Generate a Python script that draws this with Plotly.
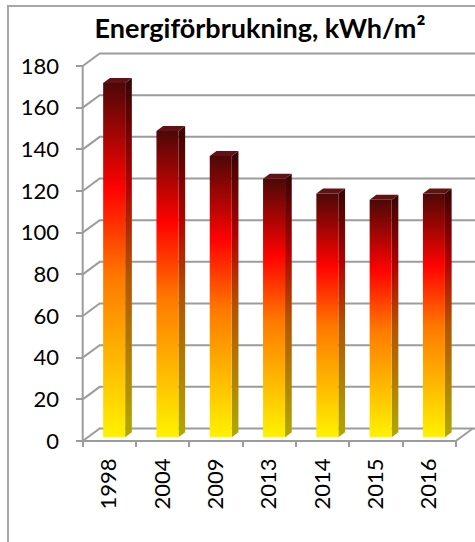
import plotly.graph_objects as go

# Energy use per year (kWh/m²)
years = ["1998", "2004", "2009", "2013", "2014", "2015", "2016"]
energy = [170, 147, 135, 124, 117, 114, 117]
y_ticks = list(range(0, 181, 20))
chart_title = "Energiförbrukning, kWh/m²"

# "Fire" gradient used on the column faces (bottom -> top)
fire_stops = [0.0, 0.45, 0.70, 1.0]
fire_rgb = [(255, 242, 0), (255, 122, 0), (255, 3, 0), (77, 8, 8)]

W, H = 475, 542
PX_X = 53.3      # pixels per category slot
PX_Y = 2.0833    # pixels per kWh/m²
ML, MT, MB = 76, 45, 95
ORIGIN_PX = (82.7, 441.0)   # front-left floor corner in page pixels

# pseudo-3D geometry (data units)
DX, DY = 17 / PX_X, 12.5 / PX_Y       # back wall offset
FX, FY = 4.8 / PX_X, 3.8 / PX_Y       # column front plane offset
HW = 11 / PX_X                        # half column width
SX, SY = 6.7 / PX_X, 5.0 / PX_Y       # column depth

n = len(years)
x0 = -0.5 - (ORIGIN_PX[0] - ML) / PX_X
x1 = -0.5 + (W - ORIGIN_PX[0]) / PX_X
y0 = -((H - MB) - ORIGIN_PX[1]) / PX_Y
y1 = (ORIGIN_PX[1] - MT) / PX_Y

grid_col = "#9c9c9c"
font_fam = "Lato, 'Open Sans', sans-serif"


def scale(rgbs, k=1.0):
    return [[s, "rgb(%d,%d,%d)" % tuple(int(c * k) for c in rgb)]
            for s, rgb in zip(fire_stops, rgbs)]


front_cs = scale(fire_rgb)
side_cs = scale(fire_rgb, 0.70)

fig = go.Figure()

# back wall gridlines and side wall diagonals
gx, gy = [], []
for v in y_ticks:
    gx += [-0.5, -0.5 + DX, x1 + 1, None]
    gy += [v, v + DY, v + DY, None]
fig.add_trace(go.Scatter(x=gx, y=gy, mode="lines",
                         line=dict(color=grid_col, width=2),
                         hoverinfo="skip", showlegend=False))

# front vertical axis and floor edges
fx_, fy_ = [], []
fx_ += [-0.5, -0.5, None]
fy_ += [y_ticks[-1], 0, None]
fx_ += [-0.5, n - 0.5, n - 0.5 + DX, None]
fy_ += [0, 0, DY, None]
fig.add_trace(go.Scatter(x=fx_, y=fy_, mode="lines",
                         line=dict(color=grid_col, width=2),
                         hoverinfo="skip", showlegend=False))

# columns
for i, v in enumerate(energy):
    xl, xr = i + FX - HW, i + FX + HW
    yb, yt = FY, v + FY
    # side face
    fig.add_trace(go.Scatter(
        x=[xr, xr + SX, xr + SX, xr, xr],
        y=[yb, yb + SY, yt + SY, yt, yb],
        mode="lines", line=dict(width=0), fill="toself",
        fillgradient=dict(type="vertical", colorscale=side_cs,
                          start=yb, stop=yt + SY),
        hoverinfo="skip", showlegend=False))
    # front face
    fig.add_trace(go.Scatter(
        x=[xl, xr, xr, xl, xl],
        y=[yb, yb, yt, yt, yb],
        mode="lines", line=dict(width=0), fill="toself",
        fillgradient=dict(type="vertical", colorscale=front_cs,
                          start=yb, stop=yt),
        hovertemplate=years[i] + ": " + str(v) + "<extra></extra>",
        showlegend=False))
    # top face
    fig.add_trace(go.Scatter(
        x=[xl, xr, xr + SX, xl + SX, xl],
        y=[yt, yt, yt + SY, yt + SY, yt],
        mode="lines", line=dict(width=0), fill="toself",
        fillcolor="rgb(98,18,18)",
        hoverinfo="skip", showlegend=False))

# invisible trace carrying the boundary tick axis
bounds = [i - 0.5 for i in range(n + 1)]
fig.add_trace(go.Scatter(x=bounds, y=[0] * len(bounds), xaxis="x2",
                         mode="markers", marker=dict(opacity=0),
                         hoverinfo="skip", showlegend=False))

plot_w = W - ML
plot_h = H - MT - MB


def px_to_paper_x(px):
    return (px - ML) / plot_w


def px_to_paper_y(py):
    return (H - MB - py) / plot_h


fig.update_layout(
    width=W, height=H,
    margin=dict(l=ML, r=0, t=MT, b=MB, pad=0),
    paper_bgcolor="white", plot_bgcolor="white",
    font=dict(family=font_fam, color="black", size=22),
    title=dict(text="<b>" + chart_title + "</b>",
               font=dict(family=font_fam, size=27, color="black"),
               xref="container", yref="container",
               x=260 / W, y=1 - 29 / H, xanchor="center", yanchor="middle"),
    xaxis=dict(range=[x0, x1], tickvals=list(range(n)), ticktext=years,
               tickangle=-90, ticks="", showgrid=False, zeroline=False,
               showline=False, ticklabelstandoff=6, fixedrange=True),
    xaxis2=dict(range=[x0, x1], overlaying="x", anchor="y", side="bottom",
                tickvals=bounds, ticks="inside", ticklen=6, tickwidth=2,
                tickcolor=grid_col, showticklabels=False, showgrid=False,
                zeroline=False, showline=False, fixedrange=True),
    yaxis=dict(range=[y0, y1], tickvals=y_ticks, ticks="inside",
               ticklen=6.7, tickwidth=2, tickcolor=grid_col,
               showgrid=False, zeroline=False, showline=False,
               ticklabelstandoff=16, fixedrange=True),
    shapes=[dict(type="rect", xref="paper", yref="paper",
                 x0=px_to_paper_x(8), x1=px_to_paper_x(W + 20),
                 y0=px_to_paper_y(H + 20), y1=px_to_paper_y(6),
                 line=dict(color="#a6a6a6", width=2), layer="below")],
)

fig.write_html("out.html")
